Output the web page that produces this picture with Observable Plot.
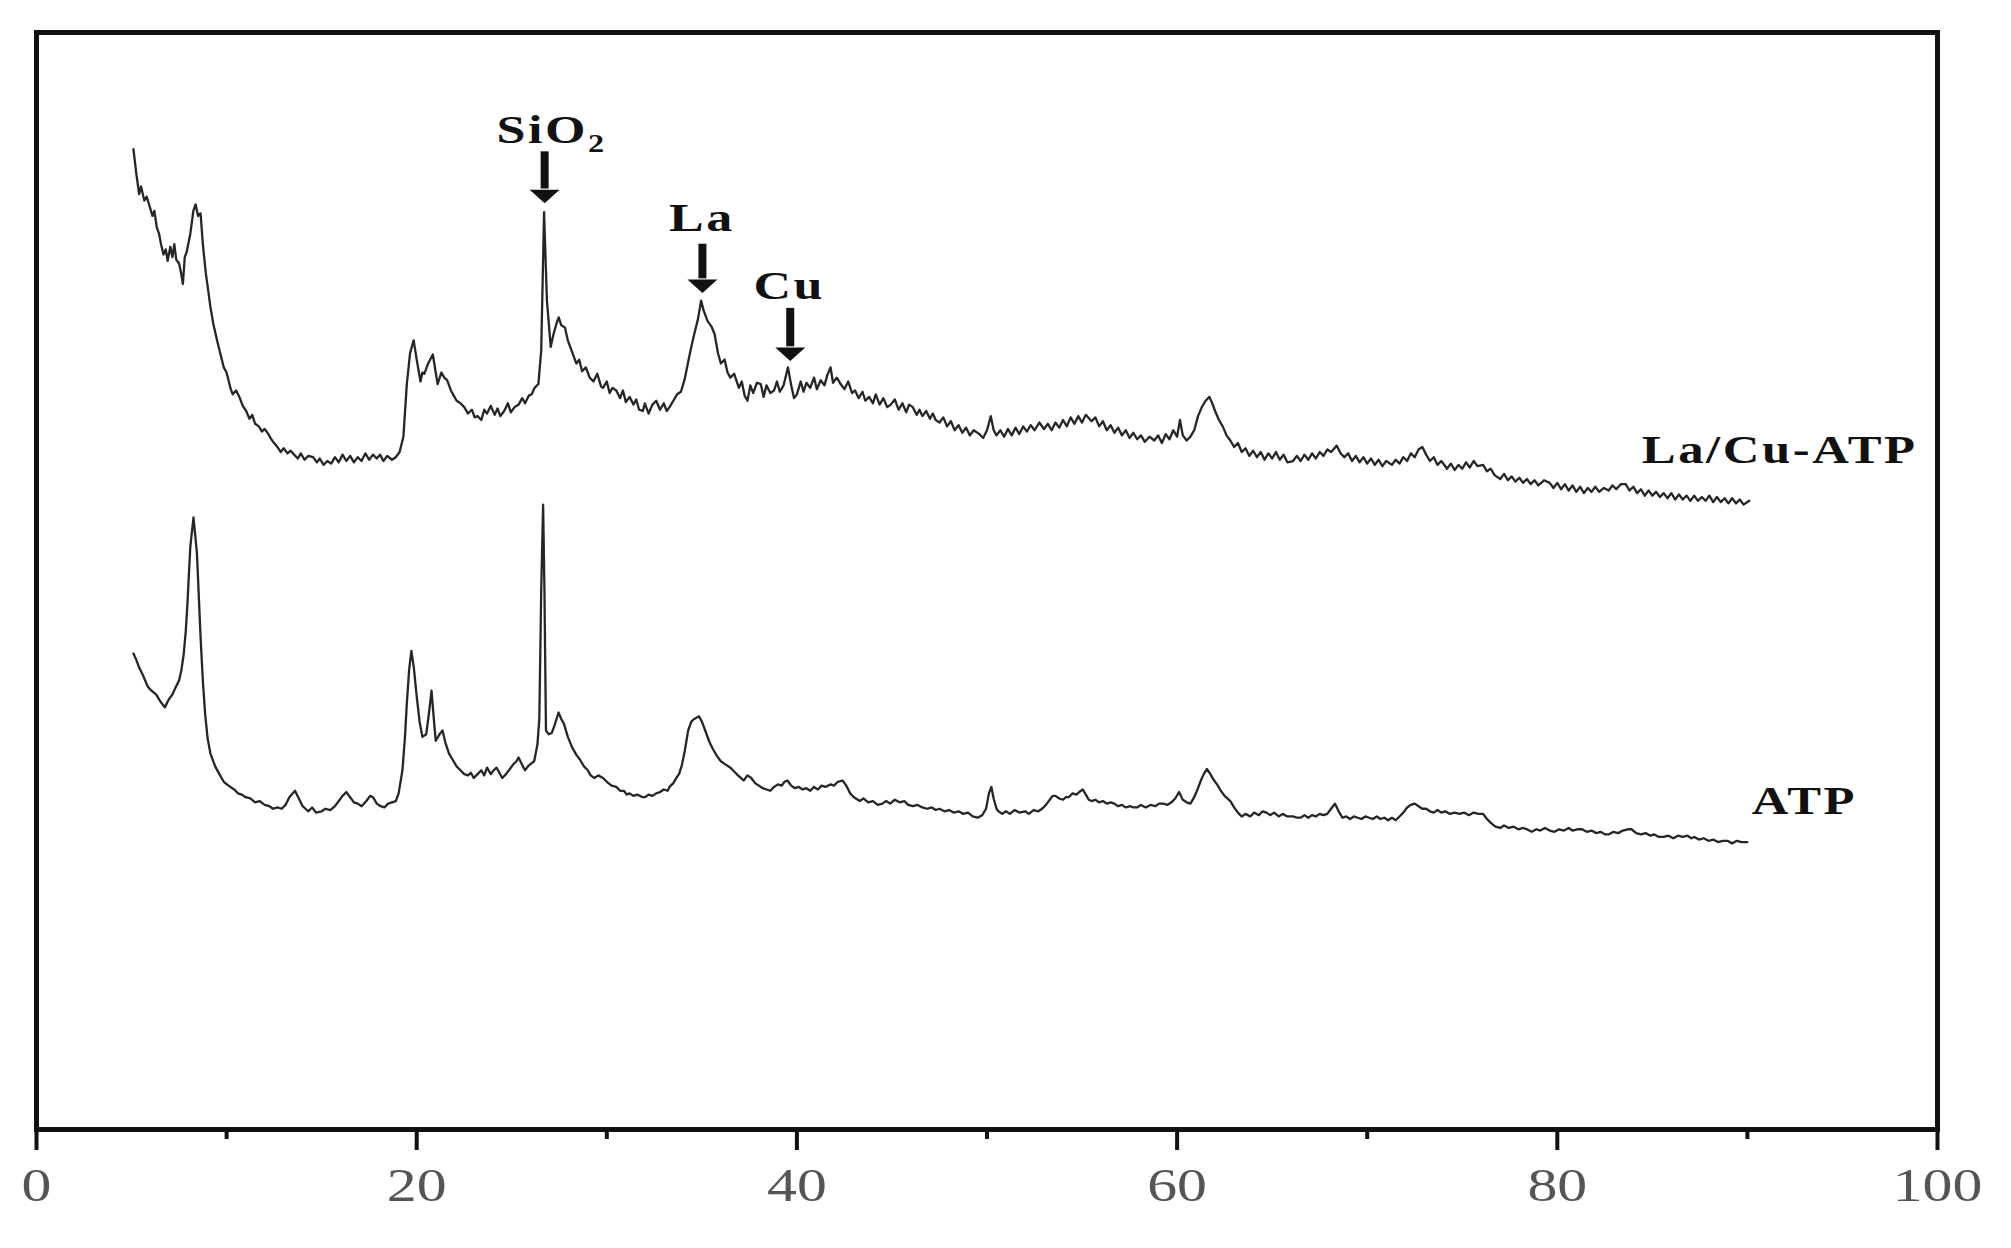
<!DOCTYPE html>
<html>
<head>
<meta charset="utf-8">
<script src="https://cdn.jsdelivr.net/npm/d3@7"></script>
<script src="https://cdn.jsdelivr.net/npm/@observablehq/plot@0.6"></script>
<style>
  html, body { margin: 0; padding: 0; background: #fff; }
</style>
</head>
<body>
<div id="chart"></div>
<script>
// X-ray diffraction patterns: [2θ (degrees), intensity (a.u.)]
const laCuATP = [
[5.1,764],[5.25,745],[5.4,729],[5.5,735],[5.67,724],[5.8,727],[5.98,718],[6.1,712],[6.2,716],[6.33,703],
[6.45,698],[6.55,690],[6.68,682],[6.8,686],[6.9,677],[7.04,688],[7.15,680],[7.25,690],[7.35,678],[7.5,675],
[7.6,668],[7.7,659],[7.8,680],[7.9,684],[8.09,698],[8.25,716],[8.37,721],[8.5,712],[8.63,714],[8.75,690],
[8.91,667],[9.05,652],[9.15,641],[9.3,628],[9.5,615],[9.65,606],[9.85,594],[10.0,590],[10.1,584],[10.2,578],
[10.32,573],[10.5,576],[10.67,571],[10.85,564],[11.03,560],[11.2,554],[11.35,557],[11.5,550],[11.7,548],[11.85,544],
[12.0,546],[12.2,542],[12.35,538],[12.5,535],[12.67,532],[12.85,528],[13.0,531],[13.2,527],[13.37,529],[13.55,526],
[13.75,523],[13.9,527],[14.1,522],[14.3,525],[14.55,524],[14.75,520],[14.9,523],[15.1,518],[15.3,521],[15.5,519],
[15.7,524],[15.9,520],[16.1,526],[16.3,521],[16.5,525],[16.7,520],[16.9,524],[17.1,521],[17.3,527],[17.5,522],
[17.7,526],[17.9,523],[18.07,526],[18.25,521],[18.45,525],[18.7,522],[18.9,524],[19.1,528],[19.3,540],[19.48,581],
[19.65,605],[19.84,615],[20.0,600],[20.2,583],[20.3,590],[20.4,589],[20.6,597],[20.85,604],[21.0,590],[21.1,581],
[21.3,590],[21.45,586],[21.6,584],[21.8,576],[21.95,572],[22.1,568],[22.3,566],[22.5,563],[22.7,558],[22.9,561],
[23.05,555],[23.2,556],[23.4,553],[23.55,561],[23.7,558],[23.9,564],[24.1,557],[24.25,562],[24.4,556],[24.6,560],
[24.8,566],[24.95,559],[25.15,563],[25.36,565],[25.55,570],[25.7,566],[25.9,572],[26.05,573],[26.2,578],[26.4,581],
[26.55,607],[26.7,715],[26.85,646],[27.05,610],[27.2,620],[27.35,628],[27.47,633],[27.6,627],[27.8,625],[27.95,615],
[28.1,609],[28.25,603],[28.4,597],[28.55,600],[28.7,591],[28.9,594],[29.1,586],[29.3,583],[29.5,589],[29.7,579],
[29.8,578],[30.0,583],[30.15,574],[30.3,578],[30.5,576],[30.7,570],[30.85,576],[31.0,567],[31.2,571],[31.4,565],
[31.55,569],[31.7,561],[31.9,560],[32.0,566],[32.2,558],[32.4,565],[32.6,568],[32.8,561],[33.0,566],[33.15,560],
[33.3,563],[33.5,568],[33.7,573],[33.9,575],[34.1,585],[34.25,596],[34.4,607],[34.6,620],[34.8,632],[34.96,646],
[35.1,638],[35.3,630],[35.5,626],[35.67,620],[35.85,605],[36.0,597],[36.2,600],[36.35,590],[36.5,586],[36.7,589],
[36.95,578],[37.1,583],[37.25,572],[37.4,568],[37.55,580],[37.7,574],[37.9,582],[38.1,581],[38.25,571],[38.4,580],
[38.6,574],[38.8,576],[38.95,583],[39.1,575],[39.3,580],[39.53,594],[39.7,580],[39.85,570],[40.0,573],[40.2,583],
[40.35,575],[40.5,582],[40.7,578],[40.9,586],[41.05,577],[41.25,584],[41.45,580],[41.6,588],[41.77,594],[41.9,582],
[42.1,586],[42.3,581],[42.5,577],[42.7,583],[42.9,574],[43.06,576],[43.25,570],[43.45,575],[43.6,568],[43.8,571],
[44.0,566],[44.15,573],[44.35,565],[44.55,570],[44.75,563],[44.94,565],[45.15,569],[45.35,561],[45.55,566],[45.75,559],
[45.9,565],[46.1,563],[46.3,557],[46.45,561],[46.6,556],[46.8,560],[47.0,554],[47.15,558],[47.3,553],[47.5,551],
[47.7,555],[47.9,548],[48.1,552],[48.3,545],[48.5,549],[48.7,543],[48.9,547],[49.1,541],[49.3,545],[49.6,542],
[49.8,539],[50.0,545],[50.2,556],[50.35,545],[50.5,541],[50.7,545],[50.9,540],[51.1,546],[51.3,541],[51.5,547],
[51.7,542],[51.9,548],[52.1,544],[52.3,549],[52.5,545],[52.75,551],[53.0,546],[53.2,550],[53.4,545],[53.6,551],
[53.8,547],[54.0,553],[54.2,548],[54.4,555],[54.6,550],[54.8,556],[55.0,551],[55.2,557],[55.5,552],[55.7,555],
[55.9,548],[56.1,552],[56.3,545],[56.5,549],[56.7,543],[56.9,547],[57.1,541],[57.3,545],[57.5,539],[57.7,543],
[57.9,538],[58.1,541],[58.3,536],[58.55,540],[58.8,537],[59.0,541],[59.2,535],[59.4,542],[59.6,538],[59.8,545],
[60.0,540],[60.15,553],[60.3,541],[60.5,537],[60.7,540],[60.9,545],[61.1,556],[61.3,563],[61.5,568],[61.7,571],
[61.85,566],[62.0,560],[62.2,553],[62.4,548],[62.6,541],[62.8,537],[63.0,532],[63.2,535],[63.4,528],[63.6,531],
[63.8,525],[64.0,529],[64.2,524],[64.4,528],[64.6,522],[64.8,527],[65.0,523],[65.2,528],[65.4,522],[65.6,526],
[65.8,520],[66.1,521],[66.3,525],[66.5,521],[66.7,526],[66.9,522],[67.1,527],[67.3,523],[67.5,528],[67.7,525],
[67.9,530],[68.1,528],[68.4,533],[68.6,527],[68.8,524],[69.0,527],[69.2,521],[69.4,525],[69.6,520],[69.8,524],
[70.0,519],[70.2,523],[70.4,518],[70.6,522],[70.8,517],[71.0,521],[71.3,518],[71.5,522],[71.7,519],[71.9,524],
[72.1,521],[72.3,527],[72.5,524],[72.7,530],[72.9,532],[73.1,526],[73.3,521],[73.5,524],[73.7,518],[73.9,521],
[74.2,515],[74.4,519],[74.6,514],[74.8,518],[75.0,515],[75.2,520],[75.4,516],[75.6,521],[75.8,517],[76.1,518],
[76.3,513],[76.5,515],[76.7,510],[77.0,507],[77.2,511],[77.4,506],[77.6,509],[77.8,505],[78.0,508],[78.2,504],
[78.4,507],[78.6,503],[78.8,506],[79.0,502],[79.3,506],[79.6,504],[79.8,500],[80.0,504],[80.2,499],[80.4,503],
[80.6,498],[80.8,502],[81.0,497],[81.2,501],[81.4,496],[81.6,500],[81.8,497],[82.0,501],[82.2,497],[82.45,500],
[82.7,498],[82.9,502],[83.1,499],[83.35,503],[83.6,503],[83.8,498],[84.0,501],[84.2,496],[84.4,499],[84.6,494],
[84.8,498],[85.0,494],[85.2,497],[85.4,493],[85.6,496],[85.8,492],[86.0,496],[86.2,491],[86.4,495],[86.6,491],
[86.8,494],[87.0,490],[87.2,494],[87.4,490],[87.6,493],[87.8,490],[88.0,494],[88.2,489],[88.4,493],[88.6,489],
[88.8,492],[89.0,488],[89.2,492],[89.4,488],[89.6,491],[89.8,487],[90.1,490]
];

const atp = [
[5.1,371],[5.25,366],[5.4,360],[5.6,354],[5.86,345],[6.05,342],[6.3,339],[6.5,334],[6.75,329],[6.95,335],
[7.15,339],[7.3,344],[7.5,350],[7.62,358],[7.74,370],[7.85,388],[7.93,407],[8.09,454],[8.26,477],[8.44,449],
[8.63,384],[8.75,350],[8.87,324],[9.0,305],[9.15,293],[9.4,283],[9.62,277],[9.85,271],[10.1,268],[10.4,265],
[10.6,262],[10.8,261],[11.0,259],[11.25,258],[11.5,255],[11.73,256],[12.0,253],[12.25,252],[12.45,250],[12.67,251],
[12.9,250],[13.1,253],[13.3,259],[13.6,264],[13.8,258],[14.0,252],[14.15,250],[14.3,248],[14.5,251],[14.7,247],
[15.0,248],[15.2,250],[15.45,249],[15.7,252],[15.9,256],[16.1,260],[16.3,263],[16.5,259],[16.7,255],[16.9,254],
[17.1,252],[17.35,256],[17.55,260],[17.7,259],[17.9,254],[18.1,252],[18.3,251],[18.5,254],[18.7,255],[18.9,256],
[19.05,262],[19.25,280],[19.38,305],[19.48,332],[19.6,358],[19.72,373],[19.85,360],[19.99,339],[20.15,318],[20.3,306],
[20.5,308],[20.65,325],[20.78,342],[20.9,320],[21.0,303],[21.2,308],[21.36,311],[21.5,302],[21.7,293],[21.9,288],
[22.1,283],[22.3,280],[22.5,277],[22.7,276],[22.85,278],[23.0,274],[23.2,277],[23.4,280],[23.55,276],[23.7,282],
[23.9,277],[24.05,280],[24.2,282],[24.35,278],[24.5,274],[24.7,277],[24.9,281],[25.1,285],[25.25,287],[25.36,290],
[25.55,284],[25.7,280],[25.85,283],[26.0,285],[26.18,287],[26.35,300],[26.45,320],[26.55,420],[26.65,487],[26.72,420],
[26.8,311],[26.95,308],[27.1,309],[27.25,315],[27.46,325],[27.6,320],[27.75,316],[27.95,306],[28.17,298],[28.4,292],
[28.6,288],[28.8,283],[29.0,280],[29.15,276],[29.35,274],[29.55,276],[29.8,274],[30.0,271],[30.25,268],[30.5,267],
[30.7,264],[30.9,264],[31.05,261],[31.2,262],[31.4,260],[31.6,261],[31.9,259],[32.0,259],[32.2,261],[32.4,260],
[32.6,262],[32.8,263],[33.0,265],[33.2,264],[33.3,267],[33.5,270],[33.7,275],[33.8,277],[33.95,284],[34.1,295],
[34.28,311],[34.45,318],[34.6,320],[34.85,322],[35.0,318],[35.2,310],[35.4,302],[35.6,296],[35.8,291],[36.0,287],
[36.2,285],[36.5,282],[36.7,279],[36.9,276],[37.05,274],[37.2,272],[37.4,276],[37.6,274],[37.8,270],[38.0,268],
[38.2,266],[38.4,265],[38.6,264],[38.8,267],[39.0,269],[39.2,268],[39.35,271],[39.5,272],[39.7,268],[39.9,266],
[40.1,267],[40.3,265],[40.5,266],[40.7,264],[40.9,267],[41.1,265],[41.3,268],[41.5,267],[41.77,269],[41.95,268],
[42.15,271],[42.4,272],[42.6,268],[42.8,262],[43.0,259],[43.3,256],[43.5,258],[43.75,255],[44.0,256],[44.25,253],
[44.5,254],[44.7,256],[44.9,254],[45.15,257],[45.4,255],[45.65,256],[45.85,253],[46.1,252],[46.35,253],[46.6,251],
[46.85,250],[47.1,251],[47.3,249],[47.5,250],[47.76,248],[48.0,249],[48.25,247],[48.5,248],[48.75,246],[49.0,247],
[49.25,244],[49.5,243],[49.75,245],[49.95,250],[50.1,262],[50.23,267],[50.35,258],[50.5,250],[50.6,248],[50.8,246],
[51.0,248],[51.2,246],[51.45,249],[51.7,247],[52.0,248],[52.2,246],[52.45,249],[52.7,248],[52.9,250],[53.1,253],
[53.3,257],[53.45,260],[53.6,260],[53.8,258],[54.0,257],[54.15,259],[54.3,259],[54.5,262],[54.7,261],[54.85,263],
[55.04,265],[55.2,261],[55.35,257],[55.5,256],[55.7,257],[55.9,255],[56.1,256],[56.3,254],[56.5,255],[56.7,254],
[56.9,252],[57.1,253],[57.3,251],[57.55,252],[57.7,251],[57.9,251],[58.1,253],[58.35,251],[58.6,253],[58.85,252],
[59.05,254],[59.27,254],[59.5,253],[59.7,255],[59.9,258],[60.1,263],[60.3,257],[60.5,255],[60.7,254],[60.9,259],
[61.1,266],[61.25,272],[61.4,277],[61.57,281],[61.75,277],[61.9,273],[62.1,269],[62.3,264],[62.5,260],[62.8,256],
[63.0,251],[63.2,247],[63.4,244],[63.6,246],[63.85,244],[64.05,247],[64.3,245],[64.5,248],[64.7,247],[64.9,245],
[65.1,247],[65.35,244],[65.55,246],[65.8,244],[66.1,244],[66.3,243],[66.5,243],[66.7,245],[66.9,243],[67.1,245],
[67.3,244],[67.5,246],[67.7,245],[67.9,246],[68.1,250],[68.3,254],[68.5,248],[68.7,243],[68.9,244],[69.1,242],
[69.3,244],[69.5,243],[69.7,242],[69.9,244],[70.1,243],[70.3,242],[70.5,244],[70.7,242],[70.9,243],[71.1,241],
[71.3,243],[71.5,241],[71.7,244],[71.9,247],[72.1,251],[72.3,253],[72.5,254],[72.7,252],[72.9,250],[73.1,250],
[73.3,248],[73.5,247],[73.7,249],[73.9,247],[74.1,248],[74.35,246],[74.6,247],[74.85,246],[75.1,247],[75.35,245],
[75.6,247],[75.85,246],[76.1,246],[76.3,242],[76.5,239],[76.75,236],[77.0,235],[77.2,237],[77.45,235],[77.7,236],
[77.95,234],[78.2,235],[78.4,234],[78.65,232],[78.9,234],[79.1,233],[79.35,235],[79.6,233],[79.85,232],[80.1,234],
[80.35,233],[80.6,235],[80.8,233],[81.05,234],[81.3,234],[81.55,232],[81.8,233],[82.05,231],[82.3,232],[82.5,230],
[82.7,230],[82.95,232],[83.2,231],[83.45,233],[83.7,234],[83.9,234],[84.15,231],[84.4,230],[84.65,231],[84.9,229],
[85.1,230],[85.35,228],[85.6,228],[85.85,229],[86.1,227],[86.35,229],[86.6,228],[86.85,229],[87.05,227],[87.2,228],
[87.45,226],[87.7,227],[87.95,225],[88.2,226],[88.45,224],[88.7,225],[88.95,225],[89.2,223],[89.45,225],[89.7,224],
[90.0,224]
];

// Axis ticks
const majorTicks = [0, 20, 40, 60, 80, 100];
const minorTicks = [10, 30, 50, 70, 90];

// Series labels
const seriesLabels = ["La/Cu-ATP", "ATP"];
const seriesLabelAngle = [91.7, 93.0];
const seriesLabelIntensity = [529, 256];

// Peak annotations (label + downward arrow)
const peakLabels = ["SiO2", "La", "Cu"];
const peakLabelAngle = [27.1, 35.0, 39.6];
const peakLabelIntensity = [779, 710, 657];
const arrowAngle = [26.73, 35.03, 39.65];
const arrowTop = [762, 690, 640];
const arrowHeadBase = [733, 663, 610];
const arrowTip = [722, 652, 599];

const seriesRows = seriesLabels.map((t, i) => ({t, x: seriesLabelAngle[i], y: seriesLabelIntensity[i]}));
const peakRows = peakLabels.map((t, i) => ({
  t, x: peakLabelAngle[i], y: peakLabelIntensity[i],
  ax: arrowAngle[i], y1: arrowTop[i], y2: arrowHeadBase[i], tip: arrowTip[i]
}));

// Downward-pointing triangle whose apex is at the anchor point
const downTriangle = {
  draw(context, size) {
    const w = Math.sqrt(size / Math.PI);
    const h = 0.9 * w;
    context.moveTo(0, 0);
    context.lineTo(-w, -h);
    context.lineTo(w, -h);
    context.closePath();
  }
};

const chart = Plot.plot({
  width: 2011,
  height: 1248,
  marginLeft: 36,
  marginRight: 74,
  marginTop: 32,
  marginBottom: 119,
  style: {background: "#fff", fontFamily: "'Liberation Serif', 'Times New Roman', serif", overflow: "visible"},
  x: {domain: [0, 100]},
  y: {domain: [0, 855], axis: null},
  marks: [
    Plot.line(laCuATP, {x: d => d[0], y: d => d[1], stroke: "#262626", strokeWidth: 2.3, strokeLinejoin: "round"}),
    Plot.line(atp, {x: d => d[0], y: d => d[1], stroke: "#262626", strokeWidth: 2.3, strokeLinejoin: "round"}),
    Plot.frame({stroke: "#111", strokeWidth: 5}),
    Plot.axisX({ticks: majorTicks, tickSize: 21, tickPadding: 18, strokeWidth: 4, stroke: "#111", fill: "#555",
      fontSize: 46, tickFormat: d => String(d)}),
    Plot.axisX({ticks: minorTicks, tickSize: 10, strokeWidth: 4, stroke: "#111", tickFormat: () => ""}),
    Plot.text(seriesRows, {x: "x", y: "y", text: "t", fontSize: 39, fontWeight: "bold", fill: "#111"}),
    Plot.text(peakRows, {x: "x", y: "y", text: "t", fontSize: 40, fontWeight: "bold", fill: "#111"}),
    Plot.ruleX(peakRows, {x: "ax", y1: "y1", y2: "y2", stroke: "#111", strokeWidth: 8}),
    Plot.dot(peakRows, {x: "ax", y: "tip", r: 15, symbol: downTriangle, fill: "#111", stroke: "none"})
  ]
});

// Horizontal stretch of the serif lettering (as in the reference) + SiO2 subscript
chart.querySelectorAll("text").forEach(t => {
  const bold = t.closest("[font-weight='bold']") || t.getAttribute("font-weight") === "bold";
  if (t.textContent === "SiO2") {
    t.textContent = "";
    const ns = "http://www.w3.org/2000/svg";
    const a = document.createElementNS(ns, "tspan");
    a.textContent = "SiO";
    const b = document.createElementNS(ns, "tspan");
    b.textContent = "2";
    b.setAttribute("font-size", "0.62em");
    b.setAttribute("dy", "0.35em");
    t.appendChild(a);
    t.appendChild(b);
  }
  if (bold) t.setAttribute("letter-spacing", "2");
  const tr = t.getAttribute("transform");
  if (tr) {
    t.setAttribute("transform", tr + " scale(1.3,1)");
  } else {
    const x = +(t.getAttribute("x") || 0), y = +(t.getAttribute("y") || 0);
    t.removeAttribute("x"); t.removeAttribute("y");
    t.setAttribute("transform", `translate(${x},${y}) scale(1.3,1)`);
  }
});

document.getElementById("chart").appendChild(chart);
</script>
</body>
</html>
